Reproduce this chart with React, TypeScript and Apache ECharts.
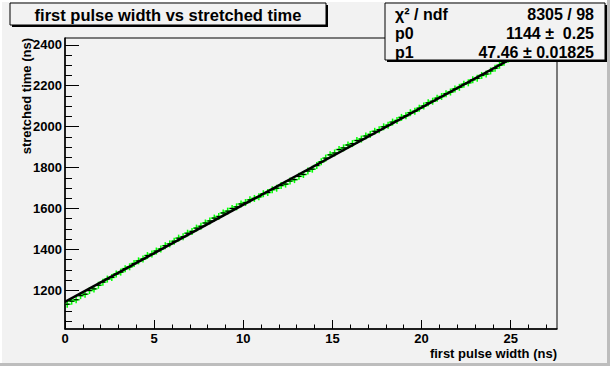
import React, { useEffect, useRef } from "react";
import * as echarts from "echarts";

// Histogram binning (first pulse width, ns)
const binLow = 0;
const binWidth = 0.25;

// Bin contents: stretched time (ns)
const stretchedTime = [
  1132, 1147, 1154, 1174, 1181, 1199, 1207, 1225, 1240, 1255,
  1263, 1280, 1289, 1306, 1315, 1331, 1344, 1353, 1370, 1377,
  1392, 1402, 1418, 1427, 1440, 1455, 1462, 1479, 1488, 1504,
  1513, 1529, 1539, 1553, 1561, 1578, 1587, 1600, 1608, 1622,
  1629, 1642, 1649, 1657, 1672, 1678, 1692, 1699, 1712, 1719,
  1734, 1741, 1757, 1766, 1783, 1792, 1810, 1828, 1846, 1862,
  1871, 1888, 1896, 1910, 1917, 1932, 1939, 1954, 1962, 1977,
  1985, 1999, 2007, 2022, 2030, 2045, 2053, 2068, 2075, 2090,
  2101, 2116, 2124, 2139, 2147, 2161, 2169, 2184, 2192, 2207,
  2214, 2229, 2236, 2250, 2257, 2272, 2285, 2300, 2315, 2330,
];

// Fit result (pol1)
const fitP0 = 1144;
const fitP1 = 47.46;
const fitRange = [0, 25];
const statsLabels = ["χ² / ndf", "p0", "p1"];
const statsValues = ["8305 / 98", "1144 ±  0.25", "47.46 ± 0.01825"];

// Axes
const xRange = [0, 27.6];
const yRange = [1011, 2433];
const xMajorTicks = [0, 5, 10, 15, 20, 25];
const xMinorTicks = [0, 1, 2, 3, 4, 5, 6, 7, 8, 9, 10, 11, 12, 13, 14, 15, 16, 17, 18, 19, 20, 21, 22, 23, 24, 25, 26, 27];
const yMajorTicks = [1200, 1400, 1600, 1800, 2000, 2200, 2400];
const yMinorTicks = [1050, 1100, 1150, 1200, 1250, 1300, 1350, 1400, 1450, 1500, 1550, 1600, 1650, 1700, 1750, 1800, 1850, 1900, 1950, 2000, 2050, 2100, 2150, 2200, 2250, 2300, 2350, 2400];

const titleText = "first pulse width vs stretched time";
const xTitle = "first pulse width (ns)";
const yTitle = "stretched time (ns)";

const FONT = "'Liberation Sans', Arial, Helvetica, sans-serif";
const BG = "#f2f2f2";

export default function App() {
  const ref = useRef<HTMLDivElement>(null);

  useEffect(() => {
    if (!ref.current) return;
    const chart = echarts.init(ref.current, undefined, { renderer: "svg" });

    const points = stretchedTime.map((v, i) => [binLow + (i + 0.5) * binWidth, v]);
    const fitLine = fitRange.map((x) => [x, fitP0 + fitP1 * x]);

    const baseX = {
      type: "value" as const,
      min: xRange[0],
      max: xRange[1],
      position: "bottom" as const,
      splitLine: { show: false },
    };
    const baseY = {
      type: "value" as const,
      min: yRange[0],
      max: yRange[1],
      position: "left" as const,
      splitLine: { show: false },
    };

    const option: any = {
      animation: false,
      backgroundColor: BG,
      grid: {
        left: 65,
        right: 53,
        top: 38,
        bottom: 37,
        show: true,
        borderColor: "#000",
        borderWidth: 1,
        backgroundColor: "transparent",
      },
      xAxis: [
        {
          ...baseX,
          axisLine: { show: true, lineStyle: { color: "#000", width: 1.5 } },
          axisTick: { show: true, inside: true, length: 9, customValues: xMajorTicks, lineStyle: { color: "#000", width: 1 } },
          axisLabel: {
            customValues: xMajorTicks,
            color: "#000",
            fontWeight: "bold",
            fontSize: 13,
            fontFamily: FONT,
            margin: 3,
            formatter: (v: number) => String(v),
          },
        },
        {
          ...baseX,
          axisLine: { show: false },
          axisTick: { show: true, inside: true, length: 4.5, customValues: xMinorTicks, lineStyle: { color: "#000", width: 1 } },
          axisLabel: { show: false },
        },
      ],
      yAxis: [
        {
          ...baseY,
          axisLine: { show: true, lineStyle: { color: "#000", width: 1.5 } },
          axisTick: { show: true, inside: true, length: 14, customValues: yMajorTicks, lineStyle: { color: "#000", width: 1 } },
          axisLabel: {
            customValues: yMajorTicks,
            color: "#000",
            fontWeight: "bold",
            fontSize: 13,
            fontFamily: FONT,
            margin: 3,
            formatter: (v: number) => String(v),
          },
        },
        {
          ...baseY,
          axisLine: { show: false },
          axisTick: { show: true, inside: true, length: 7, customValues: yMinorTicks, lineStyle: { color: "#000", width: 1 } },
          axisLabel: { show: false },
        },
      ],
      series: [
        {
          type: "custom",
          xAxisIndex: 0,
          yAxisIndex: 0,
          clip: true,
          data: points,
          z: 2,
          renderItem: (_params: any, api: any) => {
            const x = api.value(0);
            const y = api.value(1);
            const c = api.coord([x, y]);
            const l = api.coord([x - binWidth / 2, y]);
            const r = api.coord([x + binWidth / 2, y]);
            const s = 3.5;
            return {
              type: "group",
              children: [
                { type: "line", shape: { x1: c[0] - s, y1: c[1], x2: c[0] + s, y2: c[1] }, style: { stroke: "#00ff00", lineWidth: 1.5 } },
                { type: "line", shape: { x1: c[0], y1: c[1] - s, x2: c[0], y2: c[1] + s }, style: { stroke: "#00ff00", lineWidth: 1.5 } },
                { type: "line", shape: { x1: l[0], y1: l[1], x2: r[0], y2: r[1] }, style: { stroke: "#000", lineWidth: 1.2 } },
              ],
            };
          },
        },
        {
          type: "line",
          xAxisIndex: 0,
          yAxisIndex: 0,
          data: fitLine,
          symbol: "none",
          z: 3,
          lineStyle: { color: "#000", width: 2.5 },
        },
      ],
      graphic: [
        // canvas bevel
        { type: "rect", shape: { x: 0, y: 0, width: 610, height: 2 }, style: { fill: "#ffffff" }, silent: true },
        { type: "rect", shape: { x: 0, y: 0, width: 2, height: 366 }, style: { fill: "#ffffff" }, silent: true },
        { type: "rect", shape: { x: 0, y: 363, width: 610, height: 3 }, style: { fill: "#bdbdbd" }, silent: true },
        { type: "rect", shape: { x: 607, y: 0, width: 3, height: 366 }, style: { fill: "#bdbdbd" }, silent: true },
        // title box with shadow
        { type: "rect", shape: { x: 12, y: 5, width: 316, height: 22 }, style: { fill: "#000" }, silent: true },
        { type: "rect", shape: { x: 10, y: 3, width: 316, height: 22 }, style: { fill: BG, stroke: "#000", lineWidth: 1 }, silent: true },
        {
          type: "text",
          x: 168,
          y: 15,
          style: { text: titleText, fill: "#000", font: `bold 16.5px ${FONT}`, align: "center", verticalAlign: "middle" },
          silent: true,
        },
        // stats box with shadow
        { type: "rect", shape: { x: 387, y: 5, width: 220, height: 57 }, style: { fill: "#000" }, silent: true, z: 10 },
        { type: "rect", shape: { x: 385, y: 3, width: 220, height: 57 }, style: { fill: BG, stroke: "#000", lineWidth: 1 }, silent: true, z: 10 },
        ...statsLabels.map((t, i) => ({
          type: "text",
          x: 395,
          y: 14 + i * 19,
          z: 11,
          style: { text: t, fill: "#000", font: `bold 16px ${FONT}`, align: "left", verticalAlign: "middle" },
          silent: true,
        })),
        ...statsValues.map((t, i) => ({
          type: "text",
          x: 594,
          y: 14 + i * 19,
          z: 11,
          style: { text: t, fill: "#000", font: `bold 16px ${FONT}`, align: "right", verticalAlign: "middle" },
          silent: true,
        })),
        // axis titles
        {
          type: "text",
          x: 557,
          y: 353,
          style: { text: xTitle, fill: "#000", font: `bold 13px ${FONT}`, align: "right", verticalAlign: "middle" },
          silent: true,
        },
        {
          type: "text",
          x: 26,
          y: 38,
          rotation: Math.PI / 2,
          style: { text: yTitle, fill: "#000", font: `bold 13px ${FONT}`, align: "right", verticalAlign: "middle" },
          silent: true,
        },
      ],
    };

    chart.setOption(option);
    return () => chart.dispose();
  }, []);

  return (
    <div
      ref={ref}
      style={{ position: "fixed", left: 0, top: 0, width: 610, height: 366 }}
    />
  );
}
